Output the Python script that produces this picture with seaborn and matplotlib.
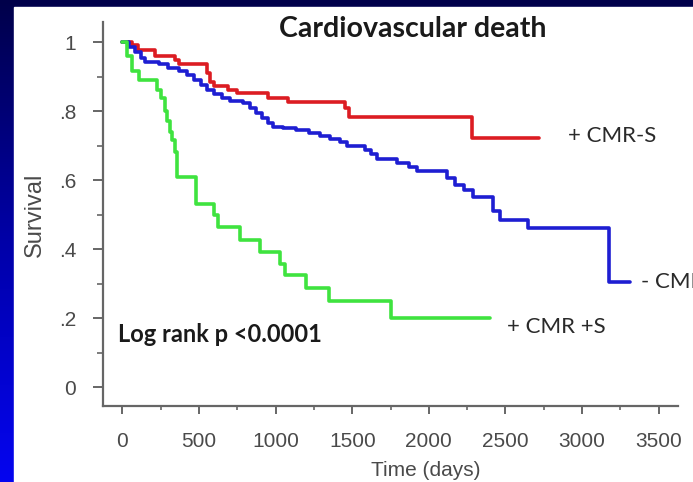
import numpy as np
import pandas as pd
import matplotlib
matplotlib.use("Agg")
import matplotlib.pyplot as plt
from matplotlib.colors import LinearSegmentedColormap
import seaborn as sns

# ---- data ----
red_t = [0, 60, 100, 215, 340, 370, 550, 570, 600, 690, 750, 950, 1080, 1450, 1480, 2280, 2720]
red_s = [1.0, 0.99, 0.977, 0.96, 0.948, 0.935, 0.91, 0.885, 0.872, 0.862, 0.851, 0.838, 0.827, 0.81, 0.783, 0.723, 0.723]

blue_t = [0, 40, 80, 120, 150, 240, 300, 370, 420, 470, 510, 550, 600, 650, 700, 790, 830, 870,
          910, 950, 980, 1050, 1130, 1220, 1290, 1355, 1420, 1464, 1580, 1620, 1660, 1790, 1870,
          1920, 2120, 2170, 2230, 2290, 2420, 2465, 2650, 3175, 3310]
blue_s = [1.0, 0.985, 0.97, 0.955, 0.943, 0.935, 0.925, 0.915, 0.905, 0.89, 0.875, 0.86, 0.848,
          0.838, 0.828, 0.822, 0.81, 0.795, 0.78, 0.765, 0.755, 0.75, 0.745, 0.735, 0.728, 0.72,
          0.71, 0.70, 0.688, 0.675, 0.66, 0.648, 0.638, 0.627, 0.605, 0.585, 0.57, 0.552, 0.51,
          0.485, 0.462, 0.303, 0.303]

green_t = [0, 30, 60, 110, 225, 250, 275, 290, 310, 325, 340, 355, 480, 600, 625, 770, 900,
           1030, 1060, 1195, 1345, 1750, 2400]
green_s = [1.0, 0.96, 0.915, 0.89, 0.86, 0.837, 0.80, 0.77, 0.74, 0.716, 0.68, 0.61, 0.53, 0.50,
           0.465, 0.426, 0.392, 0.358, 0.325, 0.288, 0.25, 0.20, 0.20]

groups = ["+ CMR-S", "- CMR", "+ CMR +S"]
group_colors = ["#dc1c22", "#1e1ed2", "#3fe33f"]

y_ticks = [0, 0.2, 0.4, 0.6, 0.8, 1.0]
y_ticklabels = ["0", ".2", ".4", ".6", ".8", "1"]
x_ticks = [0, 500, 1000, 1500, 2000, 2500, 3000, 3500]

df = pd.concat([
    pd.DataFrame({"time": red_t, "survival": red_s, "group": groups[0]}),
    pd.DataFrame({"time": blue_t, "survival": blue_s, "group": groups[1]}),
    pd.DataFrame({"time": green_t, "survival": green_s, "group": groups[2]}),
], ignore_index=True)

sns.set_style("white")
plt.rcParams["font.family"] = ["Liberation Sans", "DejaVu Sans"]

W, H = 693, 482
fig = plt.figure(figsize=(W / 100, H / 100), dpi=100)

# background: vertical navy->blue gradient with white slide area
bg = fig.add_axes([0, 0, 1, 1], zorder=-10)
grad = np.linspace(0, 1, 256).reshape(-1, 1)
cmap = LinearSegmentedColormap.from_list("bgblue", ["#00004a", "#0000a8", "#0505f0"])
bg.imshow(grad, aspect="auto", cmap=cmap, extent=[0, 1, 0, 1], origin="upper")
bg.add_patch(plt.Rectangle((14 / W, 0), 1, 1 - 7 / H, color="white", transform=bg.transAxes))
bg.set_axis_off()

ax = fig.add_axes([102.5 / W, 1 - 406 / H, (678 - 102.5) / W, (406 - 22) / H])
ax.set_facecolor("none")

sns.lineplot(data=df, x="time", y="survival", hue="group", hue_order=groups,
             palette=group_colors, drawstyle="steps-post", estimator=None, sort=False,
             legend=False, linewidth=2.6, ax=ax)

ax.set_xlim(-130, 3626)
ax.set_ylim(-0.055, 1.058)

for side in ["top", "right"]:
    ax.spines[side].set_visible(False)
for side in ["left", "bottom"]:
    ax.spines[side].set_color("#666666")
    ax.spines[side].set_linewidth(1.6)

ax.set_xticks(x_ticks)
ax.set_xticks(np.arange(250, 3600, 500), minor=True)
ax.set_yticks(y_ticks)
ax.set_yticklabels(y_ticklabels)
ax.set_yticks(np.arange(0.1, 1.0, 0.2), minor=True)
ax.tick_params(axis="x", which="major", direction="out", length=6, width=1.4, color="#666666",
               labelsize=15, labelcolor="#4a4a4a", pad=13, bottom=True)
ax.tick_params(axis="x", which="minor", direction="out", length=3, width=1.2, color="#666666", bottom=True)
ax.tick_params(axis="y", which="major", direction="out", length=7, width=1.4, color="#666666",
               labelsize=15, labelcolor="#4a4a4a", pad=12, left=True)
ax.tick_params(axis="y", which="minor", direction="out", length=4, width=1.2, color="#666666", left=True)

ax.set_xlabel("Time (days)", fontsize=15, color="#4a4a4a")
ax.set_ylabel("Survival", fontsize=17, color="#4a4a4a")
ax.xaxis.set_label_coords((426 - 102.5) / 575.5, (406 - 461) / 384)
ax.yaxis.set_label_coords((46 - 102.5) / 575.5, (406 - 215) / 384)

ax.text((413 - 102.5) / 575.5, (406 - 29) / 384, "Cardiovascular death", transform=ax.transAxes,
        ha="center", va="center", fontsize=20.5, fontweight="bold", family="Lato", color="#1a1a1a",
        clip_on=False)

ax.text(-29, 0.152, "Log rank p <0.0001", ha="left", va="center", fontsize=17,
        fontweight="bold", family="Lato", color="#1a1a1a")

label_pos = [(2908, 0.728), (3385, 0.304), (2510, 0.174)]
for g, (lx, ly) in zip(groups, label_pos):
    ax.text(lx, ly, g, ha="left", va="center", fontsize=16, family="Lato", color="#2a2a2a",
            clip_on=False)

fig.savefig("out.png", dpi=100)
